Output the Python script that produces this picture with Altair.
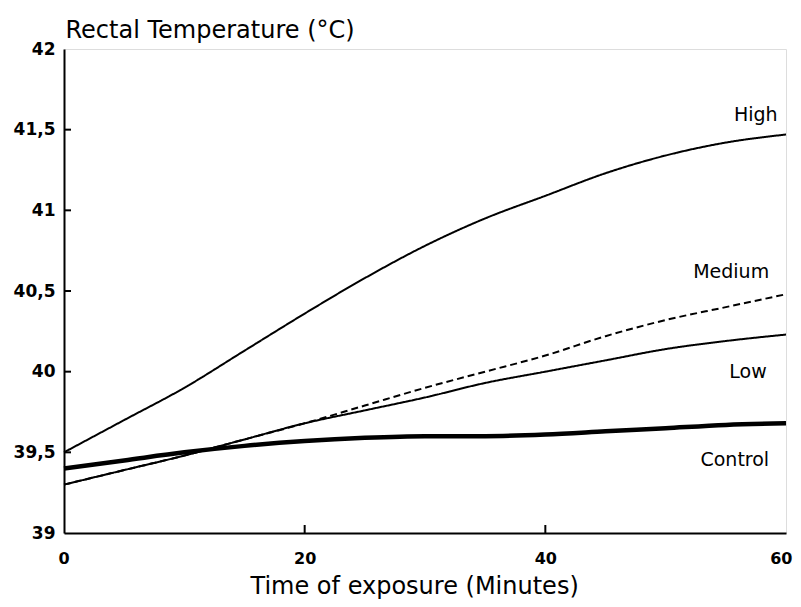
import altair as alt
import pandas as pd

time = [0, 5, 10, 15, 20, 25, 30, 35, 40, 45, 50, 55, 60]
high = [39.50, 39.70, 39.90, 40.13, 40.36, 40.58, 40.78, 40.95, 41.09, 41.23, 41.34, 41.42, 41.47]
medium = [39.30, 39.39, 39.48, 39.58, 39.68, 39.79, 39.90, 40.00, 40.10, 40.22, 40.32, 40.40, 40.48]
low = [39.30, 39.39, 39.48, 39.58, 39.68, 39.76, 39.84, 39.93, 40.00, 40.07, 40.14, 40.19, 40.23]
control = [39.40, 39.45, 39.50, 39.54, 39.57, 39.59, 39.60, 39.60, 39.61, 39.63, 39.65, 39.67, 39.68]

series_names = ["High", "Medium", "Low", "Control"]
label_time = [59.3, 58.6, 58.4, 58.6]
label_temp = [41.59, 40.62, 40.00, 39.45]

y_ticks = [39, 39.5, 40, 40.5, 41, 41.5, 42]
x_ticks = [0, 20, 40, 60]
y_inner_ticks = [39.5, 40, 40.5, 41, 41.5]
x_inner_ticks = [20, 40]

rows = []
for name, vals in zip(series_names, [high, medium, low, control]):
    for t, v in zip(time, vals):
        rows.append({"series": name, "time": t, "temp": v})
df = pd.DataFrame(rows)
labels = pd.DataFrame({"series": series_names, "time": label_time, "temp": label_temp})

xscale = alt.Scale(domain=[0, 60], nice=False, zero=False)
yscale = alt.Scale(domain=[39, 42], nice=False, zero=False)

x_enc = alt.X("time:Q", scale=xscale, axis=alt.Axis(
    values=x_ticks, ticks=False, grid=False, labelPadding=17,
    labelFlush=True, labelFlushOffset=6,
    labelFont="DejaVu Sans", labelFontWeight="bold", labelFontSize=16, labelColor="black",
    domainColor="black", domainWidth=2,
    title="Time of exposure (Minutes)", titleFont="DejaVu Sans", titleFontSize=24,
    titleFontWeight="normal", titleColor="black", titleAlign="left",
    titleX=186, titleY=60, titleBaseline="alphabetic"))
y_enc = alt.Y("temp:Q", scale=yscale, axis=alt.Axis(
    values=y_ticks, ticks=False, grid=False, labelPadding=9, labelFlush=False,
    labelExpr="replace(format(datum.value, '~g'), '.', ',')",
    labelFont="DejaVu Sans", labelFontWeight="bold", labelFontSize=17, labelColor="black",
    domainColor="black", domainWidth=2,
    title="Rectal Temperature (°C)", titleFont="DejaVu Sans", titleFontSize=24,
    titleFontWeight="normal", titleColor="black", titleAngle=0, titleAlign="left",
    titleX=1, titleY=-12, titleBaseline="alphabetic"))

thin = alt.Chart(df).transform_filter("datum.series != 'Control'").mark_line(
    interpolate="monotone", color="black", strokeWidth=2).encode(
    x=x_enc, y=y_enc,
    detail="series:N",
    strokeDash=alt.StrokeDash("series:N", scale=alt.Scale(
        domain=["High", "Medium", "Low"], range=[[1, 0], [7, 4], [1, 0]]), legend=None),
)

thick = alt.Chart(df).transform_filter("datum.series == 'Control'").mark_line(
    interpolate="monotone", color="black", strokeWidth=4.5).encode(
    x=alt.X("time:Q", scale=xscale), y=alt.Y("temp:Q", scale=yscale))

text = alt.Chart(labels).mark_text(align="right", baseline="middle", font="DejaVu Sans",
                                   fontSize=19, color="black").encode(
    x=alt.X("time:Q", scale=xscale), y=alt.Y("temp:Q", scale=yscale), text="series:N")

ytick_df = pd.DataFrame({"temp": y_inner_ticks})
yticks = alt.Chart(ytick_df).mark_rule(color="black", strokeWidth=2).encode(
    y=alt.Y("temp:Q", scale=yscale), x=alt.value(0), x2=alt.value(7))

xtick_df = pd.DataFrame({"time": x_inner_ticks})
xticks = alt.Chart(xtick_df).mark_rule(color="black", strokeWidth=2).encode(
    x=alt.X("time:Q", scale=xscale), y=alt.value(484), y2=alt.value(476))

chart = alt.layer(thin, thick, text, yticks, xticks).properties(
    width=722, height=484,
    autosize=alt.AutoSizeParams(type="none"),
    padding={"left": 56, "top": 41, "right": 7, "bottom": 66},
).configure_view(stroke="black", strokeWidth=2).configure(background="white")

chart.save("out.html", embed_options={"renderer": "svg", "actions": False})
